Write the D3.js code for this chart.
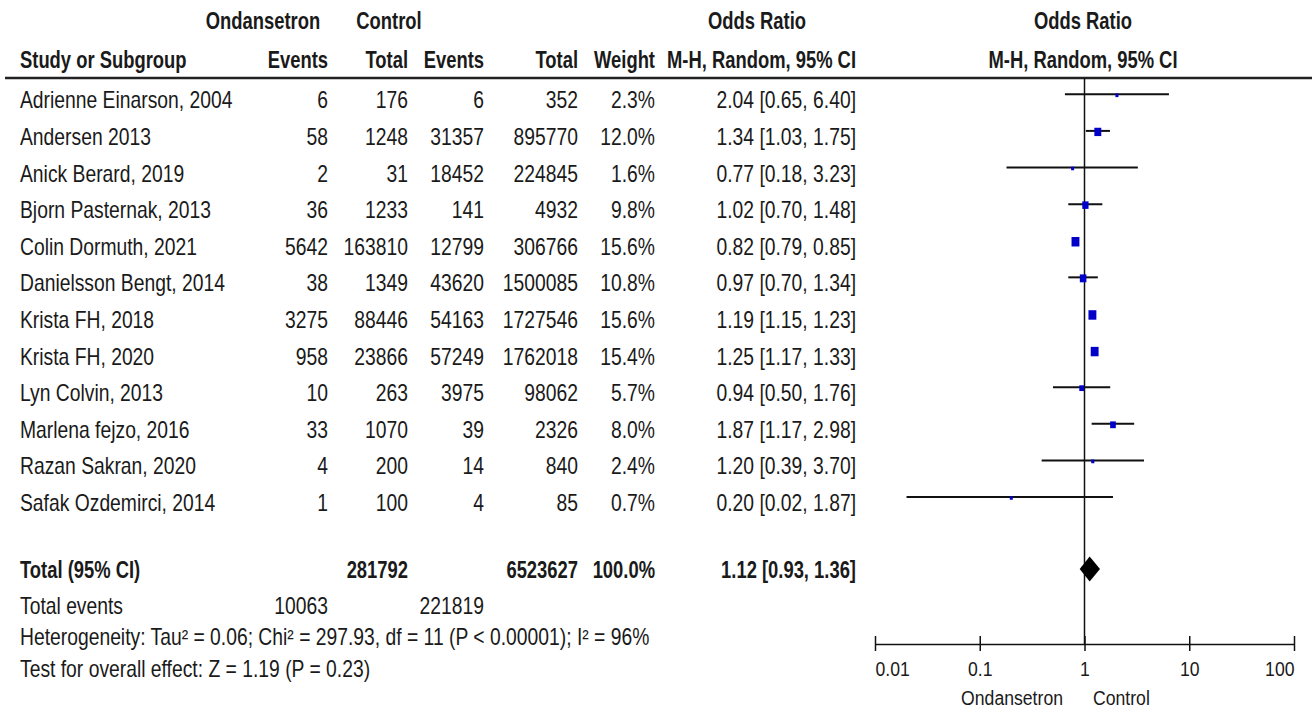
<!DOCTYPE html>
<html><head><meta charset="utf-8">
<script src="https://cdn.jsdelivr.net/npm/d3@7"></script>
<style>
html,body{margin:0;padding:0;background:#fff;}
svg text{font-family:"Liberation Sans",Arial,sans-serif;fill:#1a1a1a;}
</style></head>
<body>
<svg id="c" width="1312" height="711"></svg>
<script>
const studies = ["Adrienne Einarson, 2004","Andersen 2013","Anick Berard, 2019","Bjorn Pasternak, 2013","Colin Dormuth, 2021","Danielsson Bengt, 2014","Krista FH, 2018","Krista FH, 2020","Lyn Colvin, 2013","Marlena fejzo, 2016","Razan Sakran, 2020","Safak Ozdemirci, 2014"];
const eventsOnd = [6,58,2,36,5642,38,3275,958,10,33,4,1];
const totalOnd = [176,1248,31,1233,163810,1349,88446,23866,263,1070,200,100];
const eventsCtl = [6,31357,18452,141,12799,43620,54163,57249,3975,39,14,4];
const totalCtl = [352,895770,224845,4932,306766,1500085,1727546,1762018,98062,2326,840,85];
const weights = [2.3,12.0,1.6,9.8,15.6,10.8,15.6,15.4,5.7,8.0,2.4,0.7];
const orVal = [2.04,1.34,0.77,1.02,0.82,0.97,1.19,1.25,0.94,1.87,1.20,0.20];
const ciLow = [0.65,1.03,0.18,0.70,0.79,0.70,1.15,1.17,0.50,1.17,0.39,0.02];
const ciHigh = [6.40,1.75,3.23,1.48,0.85,1.34,1.23,1.33,1.76,2.98,3.70,1.87];
const total = {label:"Total (95% CI)", totOnd:281792, totCtl:6523627, weight:"100.0%", or:1.12, lo:0.93, hi:1.36, evOnd:10063, evCtl:221819};
const tickValues = [0.01,0.1,1,10,100];
const tickLabels = ["0.01","0.1","1","10","100"];
const footLines = ["Heterogeneity: Tau² = 0.06; Chi² = 297.93, df = 11 (P < 0.00001); I² = 96%","Test for overall effect: Z = 1.19 (P = 0.23)"];

const svg = d3.select("#c");
const FS = 23, SX = 0.84, SXB = 0.8;
const x = d3.scaleLog().domain([0.01,100]).range([875,1294]);
const y = d3.scaleLinear().domain([0,11]).range([94.3,497]);
const f2 = d3.format(".2f");
const ciText = (o,l,h)=> f2(o)+" ["+f2(l)+", "+f2(h)+"]";

function txt(xp, yp, s, anchor, bold, size){
  return svg.append("text").attr("transform",`translate(${xp},${yp}) scale(${bold?SXB:SX},1)`)
    .attr("text-anchor",anchor||"start")
    .attr("font-size",size||FS).attr("font-weight",bold?"bold":"normal").text(s);
}
// column right edges
const cEvO=328, cTotO=408, cEvC=484, cTotC=578, cW=655, cOR=856;

// headers
txt(263,29,"Ondansetron","middle",true);
txt(389,29,"Control","middle",true);
txt(757,29,"Odds Ratio","middle",true);
txt(1083,29,"Odds Ratio","middle",true);
txt(20,68,"Study or Subgroup","start",true);
txt(cEvO,68,"Events","end",true);
txt(cTotO,68,"Total","end",true);
txt(cEvC,68,"Events","end",true);
txt(cTotC,68,"Total","end",true);
txt(cW,68,"Weight","end",true);
txt(cOR,68,"M-H, Random, 95% CI","end",true);
txt(1083,68,"M-H, Random, 95% CI","middle",true);
svg.append("line").attr("x1",5).attr("x2",1312).attr("y1",78).attr("y2",78).attr("stroke","#222").attr("stroke-width",2.5);

// vertical line of no effect
svg.append("line").attr("x1",x(1)).attr("x2",x(1)).attr("y1",78).attr("y2",644).attr("stroke","#111").attr("stroke-width",1.5);

// rows
studies.forEach((s,i)=>{
  const yb = y(i)+14;
  txt(20,yb,s);
  txt(cEvO,yb,eventsOnd[i],"end");
  txt(cTotO,yb,totalOnd[i],"end");
  txt(cEvC,yb,eventsCtl[i],"end");
  txt(cTotC,yb,totalCtl[i],"end");
  txt(cW,yb,weights[i].toFixed(1)+"%","end");
  txt(cOR,yb,ciText(orVal[i],ciLow[i],ciHigh[i]),"end");
});
const g = svg.append("g");
g.selectAll("line.ci").data(studies).join("line").attr("class","ci")
  .attr("x1",(d,i)=>x(ciLow[i])).attr("x2",(d,i)=>x(ciHigh[i]))
  .attr("y1",(d,i)=>y(i)).attr("y2",(d,i)=>y(i))
  .attr("stroke","#111").attr("stroke-width",2);
const sw = w=>Math.max(3,2.0*Math.sqrt(w)), sh = w=>Math.max(3.5,2.4*Math.sqrt(w));
g.selectAll("rect.sq").data(studies).join("rect").attr("class","sq")
  .attr("width",(d,i)=>sw(weights[i]))
  .attr("height",(d,i)=>sh(weights[i]))
  .attr("x",(d,i)=>x(orVal[i])-sw(weights[i])/2)
  .attr("y",(d,i)=>y(i)+1-sh(weights[i])/2)
  .attr("fill","#0000c8");

// total row
const ty = 569;
txt(20,ty+9,total.label,"start",true);
txt(cTotO,ty+9,total.totOnd,"end",true);
txt(cTotC,ty+9,total.totCtl,"end",true);
txt(cW,ty+9,total.weight,"end",true);
txt(cOR,ty+9,ciText(total.or,total.lo,total.hi),"end",true);
svg.append("path").attr("d",`M${x(total.lo)-1.5},${ty} L${x(total.or)},${ty-12.5} L${x(total.hi)+1.5},${ty} L${x(total.or)},${ty+12.5} Z`).attr("fill","#000");

txt(20,614,"Total events");
txt(cEvO,614,total.evOnd,"end");
txt(cEvC,614,total.evCtl,"end");
txt(20,645,footLines[0]);
txt(20,677,footLines[1]);

// axis
const ax = svg.append("g").attr("transform","translate(0,644)")
  .call(d3.axisBottom(x).tickValues(tickValues).tickFormat((d,i)=>tickLabels[i]).tickSizeOuter(0).tickSizeInner(7).tickPadding(10));
ax.select(".domain").attr("stroke","#111").attr("stroke-width",1.5);
ax.selectAll(".tick line").attr("y1",-8).attr("y2",7).attr("stroke","#111").attr("stroke-width",1.5);
ax.selectAll(".tick text").attr("font-size",21).attr("fill","#1a1a1a").attr("font-family",null)
  .attr("text-anchor",(d,i)=> i===0?"start":(i===tickValues.length-1?"end":"middle"))
  .attr("dy",null).attr("y",null).attr("transform",`translate(0,32) scale(${SX},1)`);
txt(1063,705,"Ondansetron","end",false,21);
txt(1093,705,"Control","start",false,21);
</script>
</body></html>
